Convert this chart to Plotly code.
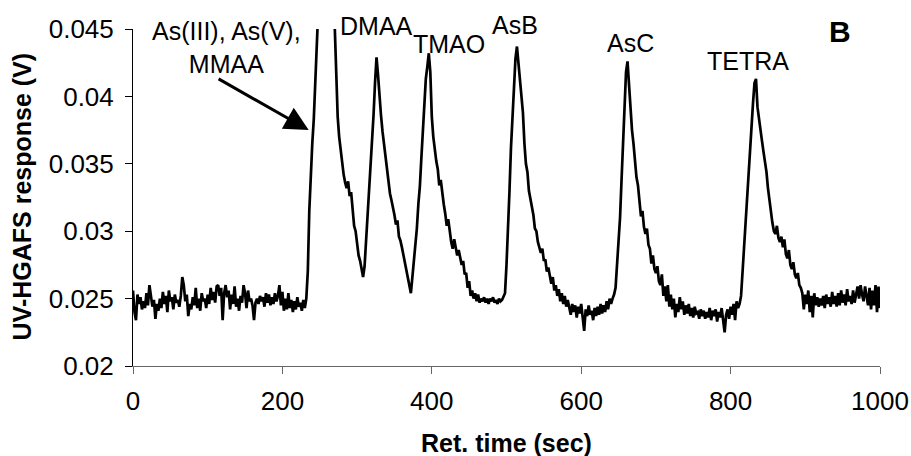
import plotly.graph_objects as go

# Detector response (mV) sampled every 2 s from 0 to 1000 s
sample_interval_s = 2
response_mV = [
    25.6, 24.0, 23.4, 25.3, 24.6, 25.1, 24.2, 24.8, 24.3, 25.4,   # 0
    24.5, 26.0, 25.2, 24.4, 24.9, 23.5, 24.6, 24.1, 25.0, 24.3,   # 20
    25.5, 24.6, 25.2, 24.0, 25.6, 24.8, 25.1, 24.2, 25.3, 24.7,   # 40
    24.9, 24.4, 25.2, 26.6, 26.0, 24.8, 25.3, 23.7, 24.6, 24.2,   # 60
    25.1, 24.5, 25.8, 24.3, 25.0, 24.1, 25.4, 24.8, 25.0, 24.3,   # 80
    25.3, 24.6, 25.8, 24.9, 25.5, 24.7, 25.9, 26.0, 25.2, 25.8,   # 100
    23.4, 25.4, 26.0, 25.1, 25.6, 24.2, 25.3, 24.6, 25.9, 24.4,   # 120
    25.0, 24.1, 25.2, 24.7, 26.0, 25.4, 24.3, 25.6, 24.8, 25.0,   # 140
    24.5, 23.4, 24.7, 25.0, 24.6, 25.2, 24.8, 25.1, 24.4, 25.4,   # 160
    24.7, 25.3, 24.5, 25.1, 24.6, 25.4, 24.8, 25.2, 26.0, 24.5,   # 180
    25.5, 24.1, 25.0, 24.2, 25.4, 24.3, 24.9, 24.0, 24.8, 24.2,   # 200
    25.1, 24.4, 24.7, 24.1, 24.9, 24.3, 25.0, 27.0, 31.5, 34.8,   # 220
    36.5, 38.3, 42.0, 44.2, 46.5, 50.0, 54.0, 57.0, 59.0, 60.0,   # 240
    59.0, 56.0, 52.0, 49.0, 46.5, 45.3, 41.5, 38.5, 37.0, 36.0,   # 260
    35.0, 34.2, 33.6, 33.2, 33.7, 32.6, 32.9, 31.6, 30.4, 30.0,   # 280
    29.0, 28.2, 27.8, 27.3, 26.6, 27.4, 29.2, 31.2, 33.0, 34.8,   # 300
    36.5, 38.6, 41.0, 42.9, 41.6, 39.6, 38.6, 37.4, 36.4, 35.6,   # 320
    34.5, 33.6, 32.8, 32.3, 31.8, 31.2, 30.5, 30.8, 29.6, 29.3,   # 340
    28.8, 28.2, 27.9, 27.0, 26.4, 25.8, 25.4, 26.6, 27.8, 28.5,   # 360
    30.2, 32.0, 33.3, 35.4, 37.6, 39.6, 41.3, 42.2, 43.2, 41.8,   # 380
    38.5, 37.0, 36.0, 35.2, 34.6, 33.4, 33.8, 32.6, 32.0, 31.3,   # 400
    30.4, 30.9, 29.8, 29.2, 28.7, 29.4, 28.8, 28.2, 28.6, 28.0,   # 420
    27.5, 27.8, 26.8, 26.9, 25.8, 26.3, 25.2, 25.6, 25.0, 25.4,   # 440
    24.8, 25.3, 24.7, 25.0, 24.8, 25.1, 24.7, 25.0, 24.6, 25.0,   # 460
    24.8, 25.1, 24.7, 24.9, 24.6, 25.0, 24.8, 24.9, 25.1, 25.4,   # 480
    27.5, 29.8, 33.0, 36.2, 38.5, 40.8, 42.8, 43.7, 42.6, 41.0,   # 500
    40.2, 38.8, 36.5, 35.0, 34.4, 33.0, 32.4, 31.8, 31.2, 30.2,   # 520
    30.0, 29.2, 28.8, 28.4, 28.7, 27.8, 27.9, 27.0, 27.3, 26.5,   # 540
    26.1, 26.6, 25.6, 26.0, 25.2, 25.7, 24.8, 25.4, 24.6, 25.2,   # 560
    24.4, 24.9, 24.2, 23.8, 24.6, 24.0, 24.5, 23.6, 24.4, 23.9,   # 580
    24.6, 23.5, 22.6, 24.2, 23.7, 24.5, 23.8, 24.1, 23.4, 24.3,   # 600
    23.7, 24.4, 23.8, 24.6, 23.9, 24.5, 24.0, 24.8, 24.2, 25.0,   # 620
    24.6, 25.0, 25.3, 25.8, 27.5, 28.7, 31.0, 33.8, 36.6, 39.5,   # 640
    41.8, 42.6, 40.8, 39.0, 37.5, 36.5, 35.2, 34.0, 33.4, 32.2,   # 660
    31.1, 31.5, 30.3, 29.8, 30.2, 29.0, 28.7, 27.6, 28.2, 27.2,   # 680
    26.9, 27.4, 26.3, 26.0, 26.8, 25.2, 25.9, 24.8, 26.0, 24.4,   # 700
    25.3, 24.2, 25.0, 23.6, 24.6, 24.0, 25.1, 24.2, 24.8, 23.8,   # 720
    24.5, 23.9, 24.6, 23.7, 24.3, 23.6, 24.4, 23.9, 24.0, 23.5,   # 740
    24.2, 23.7, 24.1, 23.5, 24.0, 23.6, 24.3, 23.4, 24.1, 23.7,   # 760
    24.2, 23.3, 24.0, 23.6, 24.3, 23.4, 22.5, 23.8, 24.2, 23.5,   # 780
    24.4, 23.8, 24.6, 23.4, 24.8, 24.3, 24.6, 25.2, 27.0, 29.0,   # 800
    31.0, 33.0, 34.8, 36.5, 37.8, 39.5, 41.0, 41.3, 39.2, 38.3,   # 820
    37.2, 36.7, 35.9, 35.3, 34.4, 33.2, 32.2, 31.6, 30.6, 30.0,   # 840
    29.8, 30.4, 29.5, 29.2, 29.6, 28.8, 29.4, 28.3, 28.0, 28.6,   # 860
    27.5, 27.2, 27.7, 26.8, 26.5, 26.9, 26.0, 25.8, 25.4, 24.2,   # 880
    25.3, 24.6, 25.6, 24.0, 25.2, 23.6, 25.4, 24.5, 25.1, 24.4,   # 900
    25.0, 24.5, 25.2, 24.3, 25.3, 24.6, 25.1, 24.4, 25.5, 24.6,   # 920
    25.2, 24.4, 25.4, 24.5, 25.6, 24.7, 25.3, 24.5, 25.7, 24.8,   # 940
    25.2, 24.6, 25.6, 24.7, 25.4, 25.9, 25.0, 26.0, 25.3, 24.8,   # 960
    25.9, 25.2, 24.5, 25.8, 24.2, 25.6, 24.5, 26.0, 24.0, 25.9,   # 980
    24.3,                                                         # 1000
]

time_s = [i * sample_interval_s for i in range(len(response_mV))]
response_V = [v / 1000.0 for v in response_mV]

x_ticks = [0, 200, 400, 600, 800, 1000]
y_ticks = [0.02, 0.025, 0.03, 0.035, 0.04, 0.045]
y_ticktext = ["0.02", "0.025", "0.03", "0.035", "0.04", "0.045"]

x_title = "<b>Ret. time (sec)</b>"
y_title = "<b>UV-HGAFS response (V)</b>"

# peak labels: (text, retention time position, paper y)
peak_labels = ["As(III), As(V),<br>MMAA", "DMAA", "TMAO", "AsB", "AsC", "TETRA"]
peak_label_x = [125, 326, 423, 511, 665.5, 823.5]
peak_label_y = [0.944, 1.010, 0.955, 1.013, 0.958, 0.906]

FONT = "Liberation Sans, Arial, sans-serif"

fig = go.Figure()
fig.add_trace(go.Scatter(
    x=time_s, y=response_V, mode="lines",
    line=dict(color="black", width=2.7),
    hoverinfo="skip", showlegend=False,
))

annotations = []
for txt, xv, yv in zip(peak_labels, peak_label_x, peak_label_y):
    annotations.append(dict(
        text=txt, x=xv, y=yv, xref="x", yref="paper",
        showarrow=False, xanchor="center", yanchor="middle",
        font=dict(family=FONT, size=25, color="black"),
    ))

# arrow pointing at the first (co-eluting) peak
annotations.append(dict(
    text="", x=235.2, y=0.0375, xref="x", yref="y",
    ax=112.6, ay=0.04136, axref="x", ayref="y",
    showarrow=True, arrowhead=2, arrowsize=1.6, arrowwidth=3,
    arrowcolor="black", standoff=0,
))

# panel letter
annotations.append(dict(
    text="<b>B</b>", x=946.5, y=0.993, xref="x", yref="paper",
    showarrow=False, xanchor="center", yanchor="middle",
    font=dict(family=FONT, size=30, color="black"),
))

# axis titles placed as annotations for precise positioning
annotations.append(dict(
    text=x_title, x=0.5, y=-0.2298, xref="paper", yref="paper",
    showarrow=False, xanchor="center", yanchor="middle",
    font=dict(family=FONT, size=25, color="black"),
))
annotations.append(dict(
    text=y_title, x=-0.1473, y=0.503, xref="paper", yref="paper",
    showarrow=False, xanchor="center", yanchor="middle", textangle=-90,
    font=dict(family=FONT, size=25, color="black"),
))

fig.update_layout(
    width=911, height=456,
    margin=dict(l=133, r=31, t=29, b=90, autoexpand=False),
    paper_bgcolor="white", plot_bgcolor="white",
    font=dict(family=FONT, color="black"),
    annotations=annotations,
    xaxis=dict(
        range=[0, 1000], tickvals=x_ticks, ticks="outside", ticklen=7,
        tickcolor="#666666", tickwidth=1,
        showline=True, linecolor="#666666", linewidth=1,
        showgrid=False, zeroline=False,
        tickfont=dict(size=26, family=FONT, color="black"),
        ticklabelstandoff=5,
        automargin=False,
    ),
    yaxis=dict(
        range=[0.02, 0.045], tickvals=y_ticks, ticktext=y_ticktext,
        ticks="outside", ticklen=7, tickcolor="black", tickwidth=1,
        showline=True, linecolor="black", linewidth=1,
        showgrid=False, zeroline=False,
        tickfont=dict(size=26, family=FONT, color="black"),
        ticklabelstandoff=6,
        automargin=False,
    ),
)

fig.write_html("out.html")
